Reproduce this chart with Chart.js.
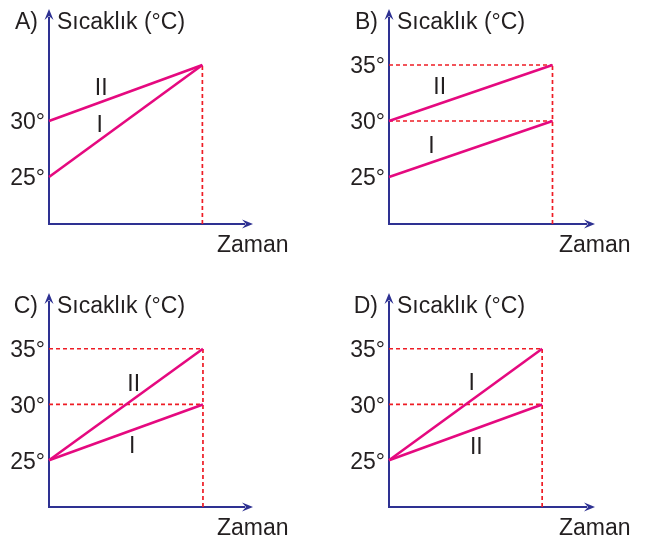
<!DOCTYPE html>
<html>
<head>
<meta charset="utf-8">
<script src="https://cdn.jsdelivr.net/npm/chart.js@4"></script>
<style>
  body { margin: 0; background: #fff; }
  #wrap { position: relative; width: 645px; height: 541px; }
  canvas { position: absolute; }
</style>
</head>
<body>
<div id="wrap">
  <canvas id="c0"></canvas>
  <canvas id="c1"></canvas>
  <canvas id="c2"></canvas>
  <canvas id="c3"></canvas>
</div>
<script>
// values: [start, end] temperature of each line
const panelNames = ["A)", "B)", "C)", "D)"];
const lineI = [[25, 35], [25, 30], [25, 30], [25, 35]];
const lineII = [[30, 35], [30, 35], [25, 35], [25, 30]];
const yTicks = [[25, 30], [25, 30, 35], [25, 30, 35], [25, 30, 35]];
const guideLevels = [[], [30, 35], [30, 35], [30, 35]];
const tEnd = 1;
// where the roman labels sit, in data units (time, temp)
const labelI = [[0.33, 29.6], [0.26, 27.7], [0.54, 26.2], [0.54, 31.9]];
const labelII = [[0.34, 32.9], [0.31, 33.0], [0.55, 31.8], [0.57, 26.1]];
const yMin = 20.8, yMax = 40;

const PINK = "#e5097f";
const RED = "#ee1c25";
const AXIS = "#2e3192";
const TEXT = "#231f20";
const FONT = "'Liberation Sans', Arial, sans-serif";

// canvas boxes on the page
const boxes = [
  { left: 0,   top: 0,   w: 320, h: 270, axisX: 49,  axisY: 224, tipX: 253, tipY: 9,   xMax: 1.33 },
  { left: 330, top: 0,   w: 315, h: 270, axisX: 389, axisY: 224, tipX: 595, tipY: 9,   xMax: 1.26 },
  { left: 0,   top: 280, w: 320, h: 261, axisX: 49,  axisY: 507, tipX: 253, tipY: 293, xMax: 1.325 },
  { left: 330, top: 280, w: 315, h: 261, axisX: 389, axisY: 507, tipX: 595, tipY: 293, xMax: 1.345 }
];

function arrowHead(ctx, x, y, dx, dy) {
  // notched arrow pointing in (dx, dy)
  const len = 11, half = 4.5, notch = 7;
  const px = -dy, py = dx;
  ctx.beginPath();
  ctx.moveTo(x, y);
  ctx.lineTo(x - dx * len + px * half, y - dy * len + py * half);
  ctx.lineTo(x - dx * notch, y - dy * notch);
  ctx.lineTo(x - dx * len - px * half, y - dy * len - py * half);
  ctx.closePath();
  ctx.fill();
}

const decor = {
  id: "decor",
  beforeDatasetsDraw(chart) {
    const { ctx, chartArea: a } = chart;
    ctx.save();
    ctx.strokeStyle = AXIS;
    ctx.fillStyle = AXIS;
    ctx.lineWidth = 2;
    ctx.beginPath();
    ctx.moveTo(a.left, a.top + 8);
    ctx.lineTo(a.left, a.bottom);
    ctx.lineTo(a.right - 8, a.bottom);
    ctx.stroke();
    arrowHead(ctx, a.left, a.top, 0, -1);
    arrowHead(ctx, a.right, a.bottom, 1, 0);
    ctx.restore();
  },
  afterDatasetsDraw(chart, args, opts) {
    const { ctx, chartArea: a, scales } = chart;
    const i = opts.idx;
    ctx.save();
    ctx.fillStyle = TEXT;
    ctx.font = "23px " + FONT;
    ctx.textBaseline = "alphabetic";
    ctx.textAlign = "right";
    ctx.fillText(panelNames[i], a.left - 11, a.top + 20);
    ctx.textAlign = "left";
    ctx.fillText("Sıcaklık (°C)", a.left + 8, a.top + 20);
    ctx.fillText("Zaman", a.right - 36, a.bottom + 28);

    ctx.textAlign = "center";
    ctx.textBaseline = "middle";
    ctx.fillText("I", scales.x.getPixelForValue(labelI[i][0]), scales.y.getPixelForValue(labelI[i][1]));
    ctx.fillText("II", scales.x.getPixelForValue(labelII[i][0]), scales.y.getPixelForValue(labelII[i][1]));
    ctx.restore();
  }
};

boxes.forEach((b, i) => {
  const cv = document.getElementById("c" + i);
  cv.width = b.w;
  cv.height = b.h;
  cv.style.left = b.left + "px";
  cv.style.top = b.top + "px";

  const lineSet = pts => ({
    data: [{ x: 0, y: pts[0] }, { x: tEnd, y: pts[1] }],
    borderColor: PINK, borderWidth: 2.6, pointRadius: 0, clip: false
  });
  const dashSet = pts => ({
    data: pts, borderColor: RED, borderWidth: 1.7, borderDash: [4, 3],
    pointRadius: 0, clip: false
  });

  const topVal = Math.max(lineI[i][1], lineII[i][1]);
  const datasets = [lineSet(lineII[i]), lineSet(lineI[i])];
  guideLevels[i].forEach(v => {
    datasets.push(dashSet([{ x: 0, y: v }, { x: tEnd, y: v }]));
  });
  datasets.push(dashSet([{ x: tEnd, y: yMin }, { x: tEnd, y: topVal }]));

  new Chart(cv, {
    type: "line",
    data: { datasets },
    options: {
      responsive: false,
      animation: false,
      layout: {
        padding: {
          left: 0,
          top: b.tipY - b.top,
          right: b.w - (b.tipX - b.left),
          bottom: b.h - (b.axisY - b.top)
        }
      },
      scales: {
        x: { type: "linear", display: false, min: 0, max: b.xMax },
        y: {
          type: "linear", min: yMin, max: yMax,
          grid: { display: false, drawTicks: false },
          border: { display: false },
          afterBuildTicks: s => { s.ticks = yTicks[i].map(v => ({ value: v })); },
          afterFit: s => { s.width = b.axisX - b.left; s.paddingTop = 0; s.paddingBottom = 0; },
          ticks: {
            padding: 4, color: TEXT, labelOffset: 2,
            font: { family: FONT, size: 23 },
            callback: v => v + "°"
          }
        }
      },
      plugins: {
        legend: { display: false },
        tooltip: { enabled: false },
        decor: { idx: i }
      }
    },
    plugins: [decor]
  });
});
</script>
</body>
</html>
